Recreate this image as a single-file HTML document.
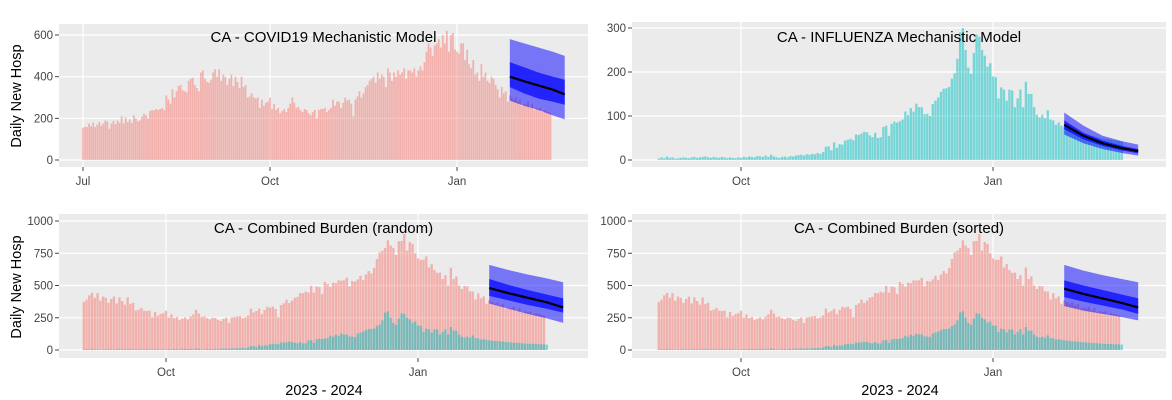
<!DOCTYPE html>
<html><head><meta charset="utf-8">
<style>
html,body{margin:0;padding:0;background:#fff;}
svg{display:block;font-family:"Liberation Sans",Arial,sans-serif;}
</style></head>
<body>
<svg id="chart" width="1172" height="400" viewBox="0 0 1172 400" xmlns="http://www.w3.org/2000/svg"></svg>
<script>
// COVID daily hospitalizations, Jul 1 2023 - Feb 17 2024
const covidValues = [
155,160,158,175,162,180,158, 170,182,165,175,190,185,150, 175,188,172,190,178,210,175,
205,182,195,178,215,200,185, 190,208,222,215,200,235,240, 238,245,240,245,250,240,310,
290,270,340,300,330,355,360, 335,330,325,380,390,395,360, 345,330,420,430,390,375,370,
385,420,435,400,435,380,410, 400,360,390,410,355,400,375, 345,400,350,360,300,305,320,
300,295,300,250,290,260,275, 280,300,245,270,240,250,225, 235,245,230,250,270,300,275,
250,255,240,230,245,240,225, 215,230,240,200,240,245,245, 250,230,240,250,290,260,280,
280,250,275,300,285,290,270, 210,290,305,330,300,320,350, 360,380,390,400,370,420,390,
410,400,350,440,420,380,420, 400,430,410,420,440,390,430, 430,420,440,400,430,450,430,
470,520,560,540,500,550,560, 580,540,600,560,620,520,600, 610,530,520,510,560,560,480,
530,460,440,480,410,420,380, 460,400,420,380,370,400,390, 360,340,300,350,320,330,280,
310,300,290,300,280,290,260, 270,265,280,250,270,240,250, 245,250,230,240,235,230,225];
// Influenza daily hospitalizations, Sep 1 2023 - Feb 17 2024
const fluValues = [
3,6,4,8,5,6,3,4,5,6,5,4,6,7,5,6,7,8,6,5,7,6,5,7,6,4,6,5,4,6,
5,7,6,8,7,6,9,8,7,10,7,12,8,6,5,7,8,6,9,8,10,11,12,10,13,12,14,13,16,14,18,
30,31,22,40,28,36,35,44,46,48,45,58,57,60,64,63,56,52,62,50,52,75,78,55,82,87,85,88,92,110,
102,118,110,128,120,120,104,105,100,127,135,142,155,162,163,166,185,197,230,290,300,250,210,196,243,285,280,250,237,212,220,
190,188,140,165,160,135,160,158,120,140,160,120,178,150,150,120,103,97,103,95,113,92,90,80,85,78,75,72,70,68,66,
65,62,60,58,56,55,54,52,50,49,48,47,46,45,44,43,42];
// forecast knots (days after Jan 27)
const fcDays = [0,7,14,21,27];
const covMed=[400,378,358,338,315], covLo50=[350,320,295,280,265], covHi50=[470,445,420,400,385], covLo95=[285,260,240,215,195], covHi95=[580,560,540,520,500];
const fluMed=[80,55,38,27,20], fluLo50=[70,47,32,22,15], fluHi50=[90,62,44,32,25], fluLo95=[58,38,25,16,10], fluHi95=[108,78,55,43,35];
const rndMed=[480,440,405,370,330], rndLo50=[420,385,350,320,290], rndHi50=[550,505,465,430,400], rndLo95=[360,320,280,245,210], rndHi95=[660,620,585,555,525];
const srtMed=[475,435,400,365,330], srtLo50=[410,375,345,315,280], srtHi50=[540,500,465,430,400], srtLo95=[340,305,280,255,230], srtHi95=[660,615,580,550,525];
const yTicksTL=[0,200,400,600], yTicksTR=[0,100,200,300], yTicksB=[0,250,500,750,1000];
const monthTicks=[{d:0,l:"Jul"},{d:92,l:"Oct"},{d:184,l:"Jan"}];
const FLU_START=62, FC_START=210;

const NS="http://www.w3.org/2000/svg";
const svg=document.getElementById('chart');
function el(tag,attrs,parent){const e=document.createElementNS(NS,tag);for(const k in attrs)e.setAttribute(k,attrs[k]);(parent||svg).appendChild(e);return e;}

const panels=[
 {name:"covid",title:"CA - COVID19 Mechanistic Model",px0:59,px1:588,py0:24,py1:167,xo:83,x0d:0,ppd:187/92,y0:160,yMax:600,yPx:125,yt:yTicksTL,ticks:monthTicks,ty:37},
 {name:"flu",title:"CA - INFLUENZA Mechanistic Model",px0:632,px1:1166,py0:22,py1:167,xo:741,x0d:92,ppd:252/92,y0:160,yMax:300,yPx:132,yt:yTicksTR,ticks:monthTicks.slice(1),ty:37},
 {name:"random",title:"CA - Combined Burden (random)",px0:59,px1:588,py0:214,py1:358,xo:166,x0d:92,ppd:252/92,y0:350,yMax:1000,yPx:129,yt:yTicksB,ticks:monthTicks.slice(1),ty:228},
 {name:"sorted",title:"CA - Combined Burden (sorted)",px0:632,px1:1166,py0:214,py1:358,xo:741,x0d:92,ppd:252/92,y0:350,yMax:1000,yPx:129,yt:yTicksB,ticks:monthTicks.slice(1),ty:228}
];

panels.forEach(p=>{
 const g=el('g',{});
 
 
 const X=d=>p.xo+(d-p.x0d)*p.ppd;
 const Y=v=>p.y0-v*p.yPx/p.yMax;
 const bg=el('rect',{x:p.px0,y:p.py0,width:p.px1-p.px0,height:p.py1-p.py0,fill:'#ebebeb'},g);
 
 
 p.yt.forEach(v=>{
  el('line',{x1:p.px0,x2:p.px1,y1:Y(v),y2:Y(v),stroke:'#fff','stroke-width':1.2},g);
  el('line',{x1:p.px0-4,x2:p.px0,y1:Y(v),y2:Y(v),stroke:'#444','stroke-width':1},g);
  const t=el('text',{x:p.px0-6,y:Y(v)+4,'text-anchor':'end','font-size':11.5,fill:'#444'},g);
  t.textContent=v;
  
  
 });
 p.ticks.forEach(tk=>{
  el('line',{x1:X(tk.d),x2:X(tk.d),y1:p.py0,y2:p.py1,stroke:'#fff','stroke-width':1.2},g);
  el('line',{x1:X(tk.d),x2:X(tk.d),y1:p.py1,y2:p.py1+4,stroke:'#444','stroke-width':1},g);
  const t=el('text',{x:X(tk.d),y:p.py1+18,'text-anchor':'middle','font-size':11.5,fill:'#444'},g);
  t.textContent=tk.l;
  
  
 });
 const bw=p.ppd*0.85;
 if(p.name==="covid"){
  covidValues.forEach((v,i)=>{const b=el('rect',{x:X(i)-bw/2,y:Y(v),width:bw,height:Y(0)-Y(v),fill:'#F8766D','fill-opacity':0.5},g);
   
   });
 } else if(p.name==="flu"){
  fluValues.forEach((v,i)=>{const b=el('rect',{x:X(i+FLU_START)-bw/2,y:Y(v),width:bw,height:Y(0)-Y(v),fill:'#00BFC4','fill-opacity':0.5},g);
   
   });
 } else {
  fluValues.forEach((v,i)=>{const tot=v+covidValues[i+FLU_START];
   const b=el('rect',{x:X(i+FLU_START)-bw/2,y:Y(tot),width:bw,height:Y(0)-Y(tot),fill:'#F8766D','fill-opacity':0.5},g);
   
   });
  fluValues.forEach((v,i)=>{const b=el('rect',{x:X(i+FLU_START)-bw/2,y:Y(v),width:bw,height:Y(0)-Y(v),fill:'#00BFC4','fill-opacity':0.5},g);
   
   });
 }
 const fc={covid:[covMed,covLo50,covHi50,covLo95,covHi95],flu:[fluMed,fluLo50,fluHi50,fluLo95,fluHi95],random:[rndMed,rndLo50,rndHi50,rndLo95,rndHi95],sorted:[srtMed,srtLo50,srtHi50,srtLo95,srtHi95]}[p.name];
 const band=(lo,hi,op,nm)=>{
  let d='M'+fcDays.map((dd,i)=>X(FC_START+dd)+','+Y(hi[i])).join(' L');
  d+=' L'+fcDays.slice().reverse().map((dd,j)=>{const i=fcDays.length-1-j;return X(FC_START+dd)+','+Y(lo[i]);}).join(' L')+'Z';
  const pa=el('path',{d:d,fill:'#0000ff','fill-opacity':op},g);
  
  
 };
 band(fc[3],fc[4],0.5,'forecast-95-band');
 band(fc[1],fc[2],0.7,'forecast-50-band');
 const ml=el('polyline',{points:fcDays.map((dd,i)=>X(FC_START+dd)+','+Y(fc[0][i])).join(' '),fill:'none',stroke:'#000','stroke-width':2.2},g);
 
 
 const tt=el('text',{x:(p.px0+p.px1)/2,y:p.ty+5,'text-anchor':'middle','font-size':15,fill:'#000'},g);
 tt.textContent=p.title;
 
 
});
[[96],[287]].forEach(([cy])=>{
 const t=el('text',{x:0,y:0,transform:`translate(21,${cy}) rotate(-90)`,'text-anchor':'middle','font-size':14.5,fill:'#000'});
 t.textContent='Daily New Hosp';
 
 
});
[324,900].forEach(cx=>{
 const t=el('text',{x:cx,y:395,'text-anchor':'middle','font-size':14.5,fill:'#000'});
 t.textContent='2023 - 2024';
 
 
});
</script>
</body></html>
